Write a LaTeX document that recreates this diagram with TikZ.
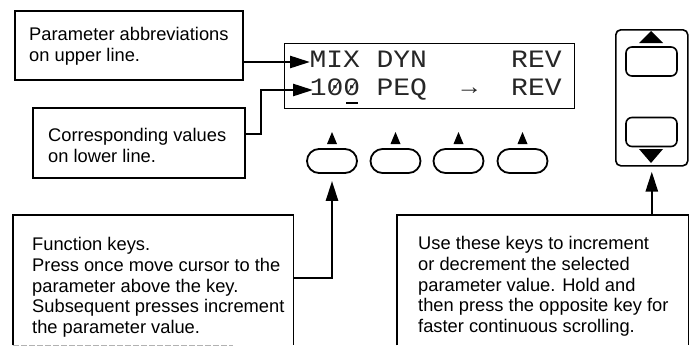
\documentclass[tikz,border=0pt]{standalone}
\usepackage{fontspec}
\setmainfont{Liberation Sans}
\newfontfamily\lcdfont[FakeStretch=1.12]{Liberation Mono}
\usetikzlibrary{arrows.meta}
\begin{document}
\begin{tikzpicture}[x=1pt,y=-1pt,
  frame/.style={draw,line width=1.6pt,inner sep=0pt,anchor=north west},
  note/.style={inner sep=0pt,align=left,anchor=north west,font=\fontsize{18.3}{20.8}\selectfont},
  link/.style={line width=2.6pt,-{Triangle[length=20pt,width=12pt]}},
  fkey/.style={draw,line width=1.8pt,rounded corners=12pt,minimum width=50pt,minimum height=24pt,inner sep=0pt},
  udkey/.style={draw,line width=1.6pt,rounded corners=6pt,minimum width=51pt,minimum height=29pt,inner sep=0pt},
  lcdtext/.style={inner sep=0pt,anchor=base,text=black!85,font=\lcdfont\fontsize{25}{25}\selectfont}]
\useasboundingbox (0,0) rectangle (696,346);

% ---- upper-left callouts ----
\node[frame,minimum width=228pt,minimum height=69pt] (abbr) at (14,10) {};
\node[note] at (29,27) {Parameter abbreviations\\on upper line.};
\node[frame,minimum width=212pt,minimum height=70pt] (vals) at (32,107) {};
\node[note] at (48,128) {Corresponding values\\on lower line.};

% ---- LCD window ----
\node[frame,line width=1.4pt,minimum width=290pt,minimum height=65pt] (lcd) at (284,43) {};
\node[lcdtext] (mix)  at (334.8,67) {MIX};
\node[lcdtext] (dyn)  at (401.8,67) {DYN};
\node[lcdtext] (rev1) at (536.4,67) {REV};
\node[lcdtext] (val)  at (335,95) {100};
\node[lcdtext] (peq)  at (401.8,95) {PEQ};
\node[lcdtext,font=\lcdfont\fontsize{23}{23}\selectfont] (dest) at (469.4,94) {→};
\node[lcdtext] (rev2) at (536.4,95) {REV};
% slashed zeros and the cursor
\draw[black!85,line width=0.9pt] (331.5,92) -- (338.5,82);
\draw[black!85,line width=0.9pt] (348.3,92) -- (355.3,82);
\draw[line width=2pt] (346,103) -- (358,103);

% ---- function keys ----
\foreach \i/\x in {1/332,2/395.5,3/458.5,4/522.5}{
  \node[fkey] (f\i) at (\x,161) {};
  \fill (\x-5,144) -- (\x+5,144) -- (\x,132) -- cycle;
}

% ---- increment / decrement keys ----
\node[frame,rounded corners=5pt,minimum width=72pt,minimum height=136pt] (panel) at (615,29) {};
\node[udkey] (up)   at (651.5,61.5) {};
\node[udkey] (down) at (651.5,132) {};
\fill (639,43) -- (663,43) -- (651,31) -- cycle;
\fill (639,149) -- (663,149) -- (651,163) -- cycle;

% ---- lower callouts (open towards the bottom) ----
\node[inner sep=0pt,anchor=north west,minimum width=280pt,minimum height=130pt] (fnbox) at (13,215) {};
\draw[line width=1.6pt] (fnbox.south west) -- (fnbox.north west) -- (fnbox.north east) -- (fnbox.south east);
\draw[gray!60,line width=0.8pt,dash pattern=on 6pt off 2pt] (fnbox.south west) -- ++(220,0);
\node[note] at (32,237) {Function keys.\\Press once move cursor to the\\parameter above the key.\\Subsequent presses increment\\the parameter value.};

\node[inner sep=0pt,anchor=north west,minimum width=291pt,minimum height=130pt] (usebox) at (397,215) {};
\draw[line width=1.6pt] (usebox.south west) -- (usebox.north west) -- (usebox.north east) -- (usebox.south east);
\node[note] at (418,236) {Use these keys to increment\\or decrement the selected\\parameter value. Hold and\\then press the opposite key for\\faster continuous scrolling.};

% ---- connectors ----
\coordinate (t1) at (310,62);
\coordinate (t2) at (313,90);
\coordinate (j2) at (261,134);
\coordinate (j3) at (332,278);
\draw[link] (abbr.east |- t1) -- (t1);
\draw[link] (vals.east |- j2) -- (j2) |- (t2);
\draw[link,shorten >=7pt] (fnbox.east |- j3) -- (j3) -- (f1.south);
\draw[link,shorten >=5pt] (panel.south |- usebox.north) -- (panel.south);
\end{tikzpicture}
\end{document}
